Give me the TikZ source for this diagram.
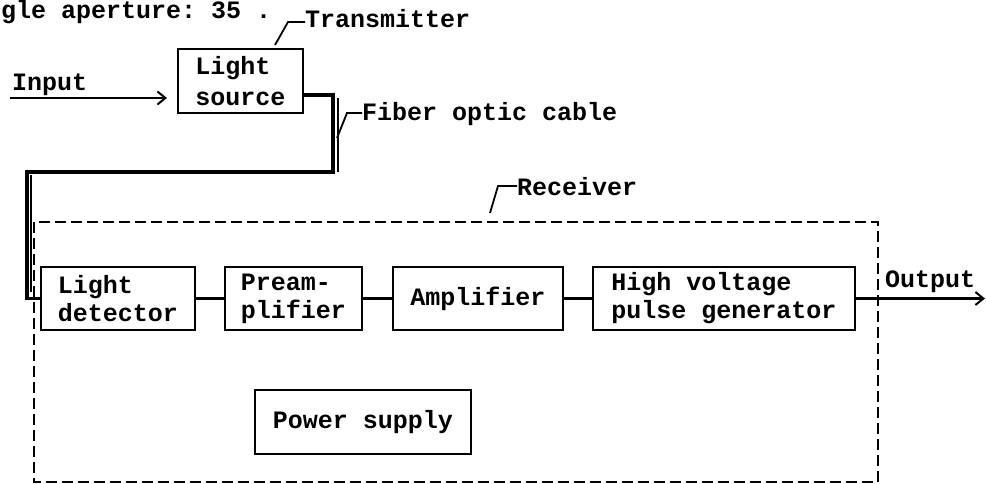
\documentclass[tikz,border=0pt]{standalone}
\usepackage{fontspec}
\setmonofont{Liberation Mono}
\usetikzlibrary{arrows.meta}
\begin{document}
\begin{tikzpicture}[x=1pt,y=-1pt,
  every node/.style={font=\ttfamily\bfseries\fontsize{25}{28}\selectfont, inner sep=0pt},
  blk/.style={draw, line width=2.1pt, align=left},
  lbl/.style={anchor=base west},
  wire/.style={line width=2.2pt},
  fiber/.style={line width=3.4pt},
  fiberthin/.style={line width=1.2pt},
  recv/.style={line width=2.3pt, dash pattern=on 11pt off 5pt},
  leader/.style={line width=1.8pt},
  arr/.style={line width=2.1pt, -{Straight Barb[length=8pt,width=13pt,line width=2pt]}}
]
\useasboundingbox (0,0) rectangle (986,484);
\fill[white] (0,0) rectangle (986,484);

% caption fragment at top
\node[lbl] (cap) at (1,19) {gle aperture: 35 .};

% transmitter
\node[blk, minimum width=125pt, minimum height=64pt, font=\ttfamily\bfseries\fontsize{25}{31}\selectfont] (ls) at (240.5,81) {Light\\source};
\node[lbl] (tx) at (305,28) {Transmitter};
\coordinate (txa) at (275,45);
\coordinate (txb) at (288,22);
\draw[leader] (txa) -- (txb) -- (tx.west |- txb);

% input
\node[lbl] (in) at (12,91) {Input};
\coordinate (inS) at (10,98);
\coordinate (inE) at (167,98);
\draw[arr] (inS) -- (inE);

% receiver boxes
\node[blk, minimum width=154pt, minimum height=63pt] (ld) at (118,298.5) {Light\\detector};
\node[blk, minimum width=137pt, minimum height=63pt] (pa) at (293.5,298.5) {Pream-\\plifier};
\node[blk, minimum width=170pt, minimum height=63pt] (am) at (478,298.5) {Amplifier};
\node[blk, minimum width=262pt, minimum height=63pt] (hv) at (724,298.5) {High voltage\\pulse generator};
\node[blk, minimum width=216pt, minimum height=64pt] (ps) at (363,422) {Power supply};

\draw[wire] (ld) -- (pa);
\draw[wire] (pa) -- (am);
\draw[wire] (am) -- (hv);

% output
\node[lbl] (out) at (885,287) {Output};
\coordinate (outE) at (985,298.5);
\draw[arr] (hv.east) -- (outE);

% receiver dashed enclosure
\draw[recv] (34,222) rectangle (878,482);
\node[lbl] (rx) at (517,196) {Receiver};
\coordinate (rxa) at (490,213);
\coordinate (rxb) at (498,186);
\draw[leader] (rxa) -- (rxb) -- (rx.west |- rxb);

% fiber optic cable
\coordinate (f1) at (333,95);
\coordinate (f2) at (333,172);
\coordinate (f3) at (27,172);
\coordinate (f4) at (27,298.5);
\draw[fiber, line join=miter] (ls.east |- f1) -- (f1) -- (f2) -- (f3) -- (f4) -- (ld.west);
\draw[fiberthin] (338,98) -- (338,172);
\draw[fiberthin] (31,175) -- (31,292);

\node[lbl] (fb) at (362,121) {Fiber optic cable};
\coordinate (fba) at (337,138);
\coordinate (fbb) at (347,113);
\draw[leader] (fba) -- (fbb) -- (fb.west |- fbb);
\end{tikzpicture}
\end{document}
